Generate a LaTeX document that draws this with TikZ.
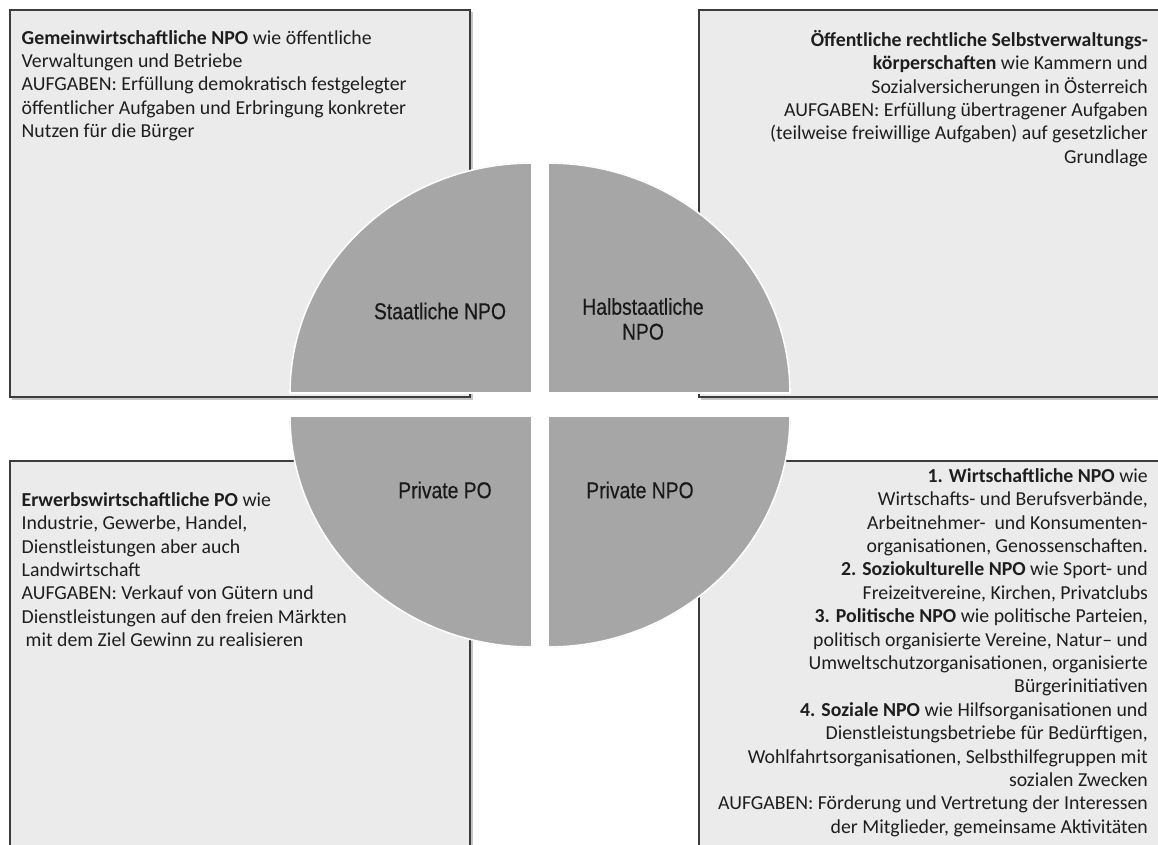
\documentclass[tikz,border=0pt]{standalone}
\usepackage{fontspec}
\setmainfont{Carlito}
\newfontfamily\piefont{Liberation Sans}[FakeStretch=0.84,FakeBold=0.4]
\definecolor{boxfill}{RGB}{235,235,235}
\definecolor{boxline}{RGB}{60,60,60}
\definecolor{piefill}{RGB}{166,166,166}
\definecolor{pieedge}{RGB}{150,150,150}
\definecolor{txt}{RGB}{30,30,30}
\begin{document}
\begin{tikzpicture}[x=1pt,y=-1pt,
  infobox/.style={fill=boxfill,draw=boxline,line width=1.6pt},
  boxshadow/.style={fill=black,opacity=0.22},
  boxtext/.style={inner sep=0pt,font=\fontsize{19.8}{23.4}\selectfont,text=txt},
  wedge/.style={fill=piefill,draw=pieedge,line width=0.8pt},
  wedgehl/.style={draw=white,line width=1.6pt},
  wedgelabel/.style={font=\piefont\fontsize{23}{25}\selectfont,text=black!90,align=center,inner sep=0pt}]

\useasboundingbox (0,0) rectangle (1158,845);
\clip (0,0) rectangle (1158,845);
\fill[white] (0,0) rectangle (1158,845);

% shadows of the boxes
\fill[boxshadow] (12,12) rectangle (472.5,399.5);
\fill[boxshadow] (701,12) rectangle (1175,399.5);
\fill[boxshadow] (12,463) rectangle (472.5,870);
\fill[boxshadow] (701,463) rectangle (1175,870);

% boxes
\draw[infobox] (10,10) rectangle (470,397);
\draw[infobox] (699,10) rectangle (1170,397);
\draw[infobox] (10,461) rectangle (470,870);
\draw[infobox] (699,461) rectangle (1170,870);

% box texts
\node[boxtext,anchor=north west,align=left] (tl) at (21.5,29)
 {\rule{0pt}{15pt}\textbf{Gemeinwirtschaftliche NPO} wie öffentliche\\
  Verwaltungen und Betriebe\\
  AUFGABEN: Erfüllung demokratisch festgelegter\\
  öffentlicher Aufgaben und Erbringung konkreter\\
  Nutzen für die Bürger};

\node[boxtext,anchor=north east,align=right] (tr) at (1148,30)
 {\rule{0pt}{15pt}\textbf{Öffentliche rechtliche Selbstverwaltungs-}\\
  \textbf{körperschaften} wie Kammern und\\
  Sozialversicherungen in Österreich\\
  AUFGABEN: Erfüllung übertragener Aufgaben\\
  (teilweise freiwillige Aufgaben) auf gesetzlicher\\
  Grundlage};

\node[boxtext,anchor=north west,align=left] (bl) at (21.5,491)
 {\rule{0pt}{15pt}\textbf{Erwerbswirtschaftliche PO} wie\\
  Industrie, Gewerbe, Handel,\\
  Dienstleistungen aber auch\\
  Landwirtschaft\\
  AUFGABEN: Verkauf von Gütern und\\
  Dienstleistungen auf den freien Märkten\\
  \hspace*{4pt}mit dem Ziel Gewinn zu realisieren};

\node[boxtext,anchor=north east,align=right] (br) at (1148,467)
 {\rule{0pt}{15pt}\textbf{1. Wirtschaftliche NPO} wie\\
  Wirtschafts- und Berufsverbände,\\
  Arbeitnehmer-~ und Konsumenten-\\
  organisationen, Genossenschaften.\\
  \textbf{2. Soziokulturelle NPO} wie Sport- und\\
  Freizeitvereine, Kirchen, Privatclubs\\
  \textbf{3. Politische NPO} wie politische Parteien,\\
  politisch organisierte Vereine, Natur-- und\\
  Umweltschutzorganisationen, organisierte\\
  Bürgerinitiativen\\
  \textbf{4. Soziale NPO} wie Hilfsorganisationen und\\
  Dienstleistungsbetriebe für Bedürftigen,\\
  Wohlfahrtsorganisationen, Selbsthilfegruppen mit\\
  sozialen Zwecken\\
  AUFGABEN: Förderung und Vertretung der Interessen\\
  der Mitglieder, gemeinsame Aktivitäten};

% pie quarters
\foreach \s in {wedge,wedgehl}{
 \path[\s] (532,393) -- (290,393) arc[start angle=180,end angle=270,x radius=242,y radius=230] -- cycle;
 \path[\s] (548,393) -- (548,163) arc[start angle=270,end angle=360,x radius=242,y radius=230] -- cycle;
 \path[\s] (532,416) -- (532,647) arc[start angle=90,end angle=180,x radius=242,y radius=231] -- cycle;
 \path[\s] (548,416) -- (790,416) arc[start angle=0,end angle=90,x radius=242,y radius=231] -- cycle;
}

% quarter labels
\node[wedgelabel] (q1) at (440,311) {Staatliche NPO};
\node[wedgelabel] (q2) at (643,319) {Halbstaatliche\\NPO};
\node[wedgelabel] (q3) at (445,490) {Private PO};
\node[wedgelabel] (q4) at (640,490) {Private NPO};
\end{tikzpicture}
\end{document}
